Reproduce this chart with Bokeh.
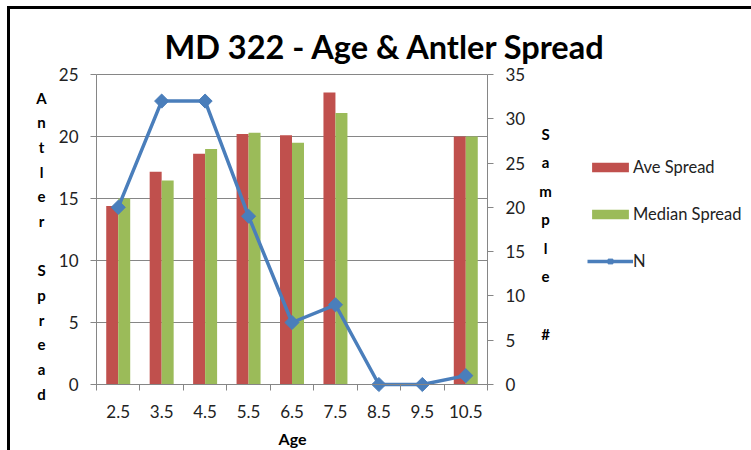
import math
from bokeh.plotting import figure
from bokeh.models import (ColumnDataSource, Range1d, LinearAxis, FixedTicker,
                          SingleIntervalTicker, Legend, LegendItem, Label)
from bokeh.transform import dodge
from bokeh.embed import file_html
from bokeh.resources import INLINE

# ---- data ----
ages = ["2.5", "3.5", "4.5", "5.5", "6.5", "7.5", "8.5", "9.5", "10.5"]
ave_spread = [14.4, 17.15, 18.6, 20.2, 20.1, 23.55, float("nan"), float("nan"), 20.0]
median_spread = [15.0, 16.45, 19.0, 20.3, 19.5, 21.9, float("nan"), float("nan"), 20.0]
n_samples = [20, 32, 32, 19, 7, 9, 0, 0, 1]
left_max, right_max = 25, 35

title_text = "MD 322 - Age & Antler Spread"
x_title = "Age"
left_label = "Antler Spread"
right_label = "Sample #"

FONT = "Lato"
RED = "#C0504D"
GREEN = "#9BBB59"
BLUE = "#4A7EBB"
AXIS = "#868686"
TXT = "#222222"

# ---- layout (pixels) ----
W, H = 751, 450
PL, PR, PT, PB = 96, 487, 74, 384          # plot-area edges
PXC = (PR - PL) / len(ages)                  # px per category
PXY = (PB - PT) / left_max
PXN = (PB - PT) / right_max


def dx(px):
    return (px - PL) / PXC


def dy(py):
    return (PB - py) / PXY


pos = [i + 0.5 for i in range(len(ages))]
src = ColumnDataSource(dict(x=pos, ave=ave_spread, med=median_spread, n=n_samples))

p = figure(width=W, height=H, output_backend="svg", toolbar_location=None, title=None,
           x_range=Range1d(dx(0), dx(W)), y_range=Range1d(dy(H), dy(0)),
           min_border_left=0, min_border_right=0, min_border_top=0,
           min_border_bottom=0)
p.extra_y_ranges = {"n": Range1d((PB - H) / PXN, PB / PXN)}
p.outline_line_color = None
p.background_fill_alpha = 0
p.border_fill_alpha = 0
p.styles = {"box-shadow": "inset 7px 6px 0 0 white, inset 10px 9px 0 0 black",
            "background-color": "white"}

bw = 0.276
r_ave = p.vbar(x=dodge("x", -bw / 2), top="ave", width=bw, source=src,
               fill_color=RED, line_color=None)
r_med = p.vbar(x=dodge("x", bw / 2), top="med", width=bw, source=src,
               fill_color=GREEN, line_color=None)
r_line = p.line(x="x", y="n", source=src, y_range_name="n",
                line_color=BLUE, line_width=3.5)
r_mark = p.scatter(x="x", y="n", source=src, y_range_name="n", marker="square",
                   angle=math.pi / 4, size=10, fill_color=BLUE, line_color=BLUE)

# x axis
xa = p.xaxis[0]
xa.fixed_location = 0
xa.bounds = (0, len(ages))
xa.ticker = FixedTicker(ticks=pos, minor_ticks=list(range(len(ages) + 1)))
xa.major_label_overrides = {pv: lab for pv, lab in zip(pos, ages)}
xa.major_tick_line_color = None
xa.major_tick_out = 0
xa.major_tick_in = 0
xa.minor_tick_out = 6
xa.minor_tick_in = 0
xa.minor_tick_line_color = AXIS
xa.axis_line_color = AXIS
xa.major_label_standoff = 14
xa.major_label_text_font = FONT
xa.major_label_text_font_size = "17px"
xa.major_label_text_color = TXT

# left axis
ya = p.yaxis[0]
ya.fixed_location = 0
ya.bounds = (0, left_max)
ya.ticker = SingleIntervalTicker(interval=5)
ya.axis_line_color = AXIS
ya.major_tick_line_color = AXIS
ya.major_tick_out = 6
ya.major_tick_in = 0
ya.minor_tick_line_color = None
ya.major_label_standoff = 12
ya.major_label_text_font = FONT
ya.major_label_text_font_size = "17px"
ya.major_label_text_color = TXT

# right axis
ra = LinearAxis(y_range_name="n", ticker=SingleIntervalTicker(interval=5),
                fixed_location=len(ages), bounds=(0, right_max))
ra.axis_line_color = AXIS
ra.major_tick_line_color = AXIS
ra.major_tick_out = 6
ra.major_tick_in = 0
ra.minor_tick_line_color = None
ra.major_label_standoff = 12
ra.major_label_text_font = FONT
ra.major_label_text_font_size = "17px"
ra.major_label_text_color = TXT
p.add_layout(ra, "right")

p.xgrid.visible = False
p.ygrid.ticker = SingleIntervalTicker(interval=5)
p.ygrid.bounds = (0, left_max)
p.ygrid.cross_bounds = (0, len(ages))
p.ygrid.grid_line_color = AXIS
p.ygrid.grid_line_width = 1

# title and axis titles
p.add_layout(Label(x=dx(385), y=dy(46), text=title_text, text_font=FONT,
                   text_font_size="32.5px", text_font_style="bold",
                   text_align="center", text_baseline="middle",
                   text_color="black"))
p.add_layout(Label(x=dx(292), y=dy(438), text=x_title, text_font=FONT,
                   text_font_size="16px", text_font_style="bold",
                   text_align="center", text_baseline="middle",
                   text_color="black"))
for i, ch in enumerate(left_label):
    if ch.strip():
        p.add_layout(Label(x=dx(41), y=dy(97 + 24.67 * i), text=ch, text_font=FONT,
                           text_font_size="15px", text_font_style="bold",
                           text_align="center", text_baseline="middle",
                           text_color="black"))
for i, ch in enumerate(right_label):
    if ch.strip():
        p.add_layout(Label(x=dx(545), y=dy(133 + 28.6 * i), text=ch, text_font=FONT,
                           text_font_size="15px", text_font_style="bold",
                           text_align="center", text_baseline="middle",
                           text_color="black"))

legend = Legend(items=[LegendItem(label="Ave Spread", renderers=[r_ave]),
                       LegendItem(label="Median Spread", renderers=[r_med]),
                       LegendItem(label="N", renderers=[r_line, r_mark])],
                location=(587, 179), orientation="vertical",
                glyph_width=46, glyph_height=12, label_height=12,
                label_standoff=0, spacing=27, padding=0, margin=0,
                border_line_color=None, background_fill_alpha=0,
                label_text_font=FONT, label_text_font_size="16.5px",
                label_text_color=TXT)
p.add_layout(legend, "center")

open("out.html", "w").write(file_html(p, INLINE))
